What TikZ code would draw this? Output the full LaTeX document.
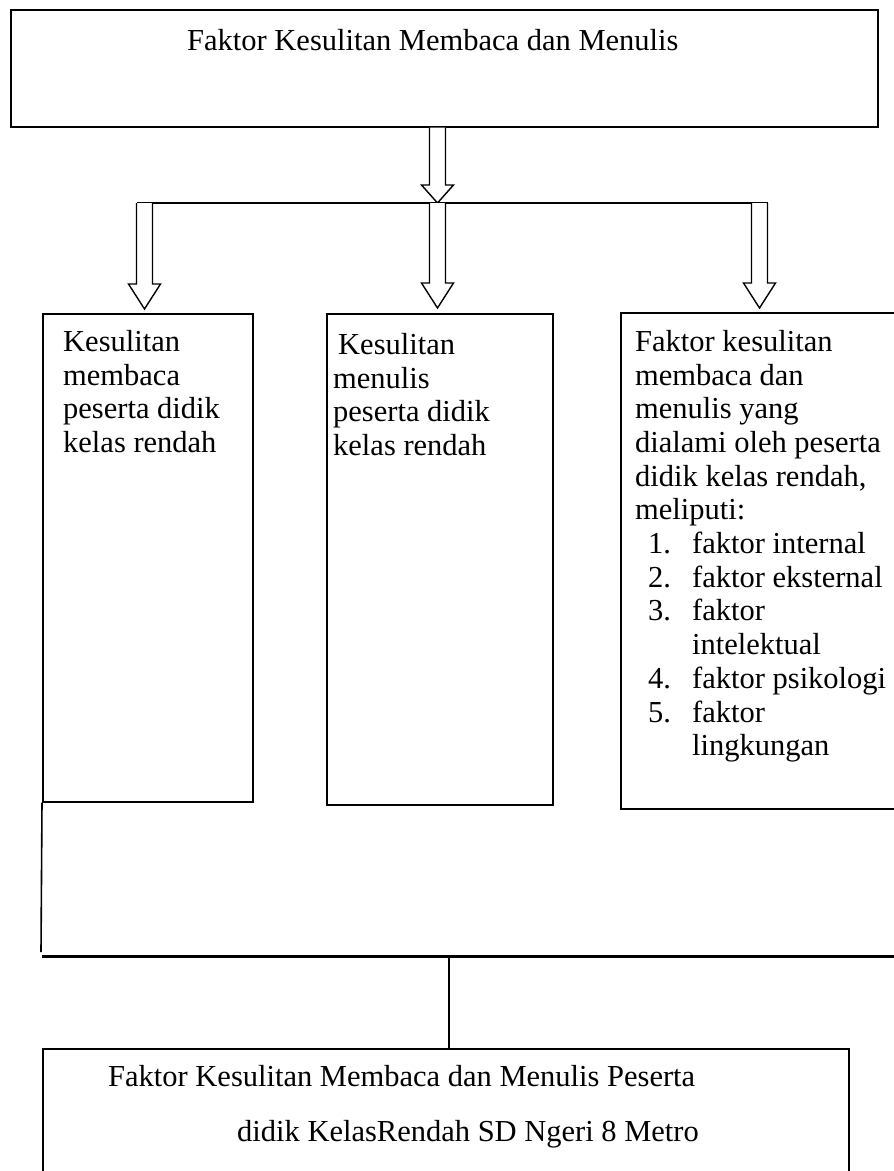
\documentclass[tikz,border=0pt]{standalone}
\usepackage{fontspec}
\setmainfont{Liberation Serif}
\usetikzlibrary{positioning, calc}

% hollow block arrow from a point straight down to a tip
\newcommand{\blockarrow}[3][25pt]{%
  \draw[blockarr] let \p1=(#2), \p2=(#3) in
    (\x1-8pt,\y1) -- (\x1-8pt,\y2+#1) -- (\x1-16pt,\y2+#1) -- (\x1,\y2)
    -- (\x1+16pt,\y2+#1) -- (\x1+8pt,\y2+#1) -- (\x1+8pt,\y1);}

\begin{document}
\begin{tikzpicture}[
    x=1pt, y=-1pt,
    frame/.style={
        rectangle,
        draw=black,
        line width=1.6pt,
        anchor=north west,
        inner sep=0pt
    },
    boxtext/.style={
        anchor=north west,
        inner sep=0pt,
        align=left,
        font=\fontsize{30.5}{33.7}\selectfont
    },
    blockarr/.style={
        draw=black,
        line width=1.4pt,
        fill=white
    },
    joinline/.style={
        line width=1.6pt
    }
]
\clip (0,0) rectangle (894,1171);
\fill[white] (0,0) rectangle (894,1171);

% Top box
\node[frame, minimum width=867pt, minimum height=117pt] (top) at (10,9) {};
\node[boxtext, anchor=base west] (toptext) at (187,50) {Faktor Kesulitan Membaca dan Menulis};

% Three boxes
\node[frame, minimum width=210pt, minimum height=488pt] (lbox) at (42,313) {};
\node[frame, minimum width=226pt, minimum height=491pt] (mbox) at (326,313) {};
\node[frame, minimum width=290pt, minimum height=496pt] (rbox) at (620,312) {};

\node[boxtext] (ltext) at (63,330) {Kesulitan\\membaca\\peserta didik\\kelas rendah};
\node[boxtext] (mtext) at (333,333) {\hspace*{5pt}Kesulitan\\menulis\\peserta didik\\kelas rendah};
\node[boxtext] (rtext) at (635,330) {Faktor kesulitan\\membaca dan\\menulis yang\\dialami oleh peserta\\didik kelas rendah,\\meliputi:\\
\hspace*{13pt}\makebox[44pt][l]{1.}faktor internal\\
\hspace*{13pt}\makebox[44pt][l]{2.}faktor eksternal\\
\hspace*{13pt}\makebox[44pt][l]{3.}faktor\\
\hspace*{57pt}intelektual\\
\hspace*{13pt}\makebox[44pt][l]{4.}faktor psikologi\\
\hspace*{13pt}\makebox[44pt][l]{5.}faktor\\
\hspace*{57pt}lingkungan};

% Bottom box
\node[frame, minimum width=806pt, minimum height=140pt] (bbox) at (42,1048) {};
\node[boxtext, anchor=base west] (btext1) at (108,1086) {Faktor Kesulitan Membaca dan Menulis Peserta};
\node[boxtext, anchor=base west] (btext2) at (237,1141) {didik KelasRendah SD Ngeri 8 Metro};

% Arrows
\coordinate (hub) at (437.5,203);
\coordinate (lhub) at (144.5,203);
\coordinate (rhub) at (759.5,203);
\blockarrow[18pt]{hub |- top.south}{hub}
\draw[joinline] ([xshift=-8pt]lhub) -- ([xshift=8pt]rhub);
\blockarrow{lhub}{[yshift=4pt]lhub |- lbox.north}
\blockarrow{hub}{[yshift=5pt]hub |- mbox.north}
\blockarrow{rhub}{[yshift=4pt]rhub |- rbox.north}

% Lower connection
\coordinate (jl) at (41,952);
\coordinate (jr) at (894,956);
\draw[joinline] (lbox.south west) -- (jl);
\draw[line width=3pt] (42,956) -- (jr);
\draw[joinline] (bbox.north -| 449,0) -- (449,956);

\end{tikzpicture}
\end{document}
